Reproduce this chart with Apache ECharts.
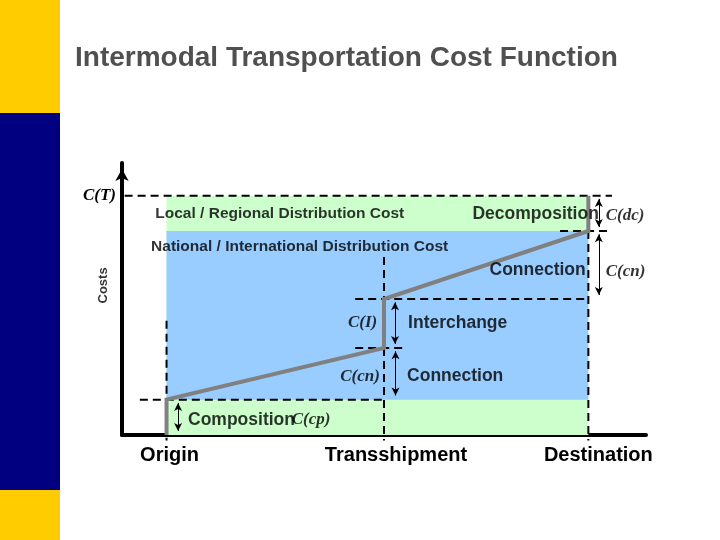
<!DOCTYPE html>
<html>
<head>
<meta charset="utf-8">
<script src="https://cdn.jsdelivr.net/npm/echarts@6/dist/echarts.min.js"></script>
<style>
html,body{margin:0;padding:0;background:#fff;}
#chart{width:720px;height:540px;}
</style>
</head>
<body>
<div id="chart"></div>
<script>
// ---------- data ----------
const titleText = 'Intermodal Transportation Cost Function';
const stageNames = ['Origin', 'Transshipment', 'Destination'];
const stageX = [8.5, 50, 89];
// cumulative cost levels (arbitrary cost units, axis 0..100)
const levelNames = ['C(cp)', 'C(cn)', 'C(I)', 'C(cn)', 'C(dc)'];
const levelValues = [13, 32, 50, 75, 88];
// cost function path
const costPathX = [8.5, 8.5, 50, 50, 89, 89];
const costPathY = [0, 13, 32, 50, 75, 88];
// distribution bands [from, to]
const localBand = [0, 88];
const nationalBand = [13, 75];
const totalLabel = 'C(T)';

// ---------- layout helpers ----------
const X0 = 0, X1 = 100, Y0 = 0, Y1 = 100;
const SANS = 'Liberation Sans, Arial, sans-serif';
const SERIF = 'Liberation Serif, Times New Roman, serif';

const chart = echarts.init(document.getElementById('chart'));

// dashed guides: horizontal [y, xFrom, xTo], vertical [x, yFrom, yTo]
const hGuides = [
  [levelValues[4], 0.5, 93.5],
  [levelValues[3], 83.6, 93.5],
  [levelValues[2], 44.5, stageX[2]],
  [levelValues[1], 44.5, 54],
  [levelValues[0], 3.4, stageX[1]]
];
const vGuides = [
  [stageX[0], 42, -2],
  [stageX[1], 65.4, -2],
  [stageX[2], levelValues[3], -2]
];

const dashStyle = {color: '#000', width: 2, type: [8, 5]};
const guideSeries = [];
hGuides.forEach(g => guideSeries.push({
  type: 'line', data: [[g[1], g[0]], [g[2], g[0]]], symbol: 'none', clip: false,
  lineStyle: dashStyle, z: 2, silent: true, animation: false
}));
vGuides.forEach(g => guideSeries.push({
  type: 'line', data: [[g[0], g[1]], [g[0], g[2]]], symbol: 'none', clip: false,
  lineStyle: dashStyle, z: 2, silent: true, animation: false
}));

// double arrows spanning each cost component
const gap = 1.2;
const arrowSpecs = [
  [10.7, 0, levelValues[0]],
  [52.2, levelValues[0], levelValues[1]],
  [52.1, levelValues[1], levelValues[2]],
  [91, levelValues[2], levelValues[3]],
  [91, levelValues[3], levelValues[4]]
];
const arrowData = arrowSpecs.map(a => [
  {coord: [a[0], a[1] + gap + 0.3]},
  {coord: [a[0], a[2] - gap]}
]);

// annotations [text, x, y, align, kind]
const annotations = [
  ['Local / Regional Distribution Cost', 30.1, 81.3, 'center', 'band'],
  ['National / International Distribution Cost', 33.9, 69.1, 'center', 'band'],
  ['Decomposition', 91.0, 81.3, 'right', 'text'],
  [levelNames[4], 92.3, 80.6, 'left', 'sym'],
  ['Connection', 88.5, 60.7, 'right', 'text'],
  [levelNames[3], 92.3, 59.9, 'left', 'sym'],
  [levelNames[2], 48.7, 41.2, 'right', 'sym'],
  ['Interchange', 54.6, 41.2, 'left', 'text'],
  [levelNames[1], 49.2, 21.3, 'right', 'sym'],
  ['Connection', 54.4, 21.7, 'left', 'text'],
  ['Composition', 12.6, 5.5, 'left', 'text'],
  [levelNames[0], 32.4, 5.5, 'left', 'sym'],
  ['Costs', -3.6, 55, 'center', 'axis']
];
const annoStyle = {
  band: {fontFamily: SANS, fontWeight: 'bold', fontSize: 15.5, color: '#000'},
  text: {fontFamily: SANS, fontWeight: 'bold', fontSize: 17.5, color: '#000'},
  sym: {fontFamily: SERIF, fontWeight: 'bold', fontStyle: 'italic', fontSize: 17, color: '#000'},
  axis: {fontFamily: SANS, fontWeight: 'bold', fontSize: 13, color: '#000', rotate: 90}
};
const annoData = annotations.map(a => ({
  value: [a[1], a[2]],
  name: a[0],
  label: Object.assign({show: true, position: 'inside', align: a[3], verticalAlign: 'middle',
    formatter: a[0]}, annoStyle[a[4]])
}));

const stageLabelStyle = {
  s0: {padding: [0, 0, 0, 6]},
  s1: {padding: [0, 0, 0, 24]},
  s2: {padding: [0, 0, 0, 20]}
};

const option = {
  animation: false,
  backgroundColor: '#fff',
  title: {
    text: titleText, left: 75, top: 44, padding: 0,
    textStyle: {fontFamily: SANS, fontWeight: 'bold', fontSize: 28, color: '#505050'}
  },
  graphic: [
    {type: 'rect', shape: {x: 0, y: 0, width: 60, height: 113}, style: {fill: '#ffcc00'}, z: -10},
    {type: 'rect', shape: {x: 0, y: 113, width: 60, height: 377}, style: {fill: '#000080'}, z: -10},
    {type: 'rect', shape: {x: 0, y: 490, width: 60, height: 50}, style: {fill: '#ffcc00'}, z: -10}
  ],
  grid: {left: 122, top: 163, right: 74, bottom: 105, containLabel: false, outerBoundsMode: 'none'},
  xAxis: {
    type: 'value', min: X0, max: X1,
    axisLine: {lineStyle: {color: '#000', width: 4}},
    axisTick: {show: false},
    splitLine: {show: false},
    axisLabel: {
      customValues: stageX,
      margin: 10,
      fontFamily: SANS, fontWeight: 'bold', fontSize: 20, color: '#000',
      formatter: v => {
        const i = stageX.indexOf(v);
        return i < 0 ? '' : '{s' + i + '|' + stageNames[i] + '}';
      },
      rich: stageLabelStyle
    }
  },
  yAxis: {
    type: 'value', min: Y0, max: Y1,
    axisLine: {lineStyle: {color: '#000', width: 4}, symbol: ['none', 'arrow'], symbolSize: [10, 12], symbolOffset: [0, -6]},
    axisTick: {show: false},
    splitLine: {show: false},
    axisLabel: {
      customValues: [levelValues[4]],
      margin: 6,
      fontFamily: SERIF, fontWeight: 'bold', fontStyle: 'italic', fontSize: 17, color: '#000',
      formatter: () => totalLabel
    }
  },
  series: [
    {
      type: 'line', data: [], z: 1, silent: true,
      markArea: {
        silent: true,
        data: [
          [{coord: [stageX[0], localBand[0]], itemStyle: {color: '#ccffcc'}}, {coord: [stageX[2], localBand[1]]}],
          [{coord: [stageX[0], nationalBand[0]], itemStyle: {color: '#99ccff'}}, {coord: [stageX[2], nationalBand[1]]}]
        ]
      }
    },
    ...guideSeries,
    {
      type: 'line', z: 3, symbol: 'none', silent: true,
      data: costPathX.map((x, i) => [x, costPathY[i]]),
      lineStyle: {color: '#808080', width: 4, join: 'miter'}
    },
    {
      type: 'line', data: [], z: 4, silent: true,
      markLine: {
        silent: true, symbol: ['arrow', 'arrow'], symbolSize: [6, 8],
        label: {show: false},
        lineStyle: {color: '#000', width: 1, type: 'solid'},
        data: arrowData
      }
    },
    {
      type: 'scatter', z: 5, silent: true, symbolSize: 0, clip: false,
      data: annoData
    }
  ]
};
chart.setOption(option);
</script>
</body>
</html>
